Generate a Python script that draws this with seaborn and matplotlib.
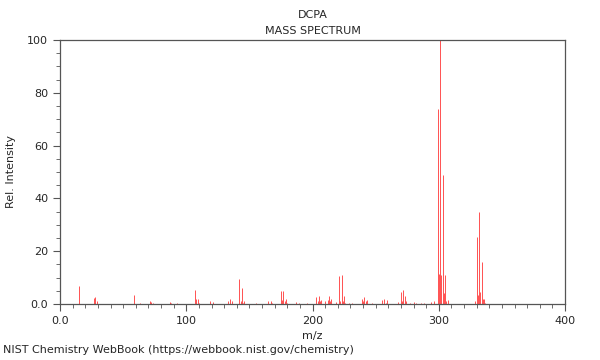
import matplotlib
matplotlib.use("Agg")
import matplotlib.pyplot as plt
import matplotlib.ticker as mtick
import pandas as pd
import seaborn as sns

# peak list (m/z, relative intensity)
mz = [15, 27, 28, 29, 59, 63, 71, 72, 74, 87, 88, 93,
      107, 108, 109, 110, 119, 121, 133, 135, 136,
      142, 143, 144, 145, 146, 155, 165, 167, 168,
      175, 176, 177, 178, 179, 180, 187, 189, 196,
      203, 204, 205, 206, 207, 210, 212, 213, 214, 215, 219,
      221, 222, 223, 224, 225, 226, 229, 231,
      239, 240, 241, 242, 243, 247, 255, 257, 258, 259,
      268, 270, 271, 272, 273, 274, 277, 280, 282, 286, 288,
      294, 296, 299, 300, 301, 302, 303, 304, 305, 306, 307,
      329, 330, 331, 332, 333, 334, 335, 336, 337]
intensity = [6.8, 2.2, 2.8, 1.2, 3.5, 0.4, 1.0, 0.7, 0.4, 0.8, 0.4, 0.5,
             5.3, 2.0, 1.8, 0.5, 1.0, 0.8, 1.2, 2.0, 1.0,
             9.5, 1.0, 6.0, 0.5, 1.0, 0.5, 1.0, 1.0, 0.5,
             4.9, 1.5, 4.9, 1.0, 2.0, 0.5, 0.8, 0.5, 0.5,
             2.5, 1.0, 3.0, 1.0, 1.5, 1.0, 1.5, 3.0, 1.0, 2.0, 0.8,
             10.5, 1.0, 11.0, 1.0, 3.0, 0.5, 0.5, 0.5,
             2.0, 1.0, 2.5, 1.0, 1.5, 0.5, 1.5, 2.0, 0.5, 1.5,
             0.8, 4.5, 1.0, 5.3, 3.0, 1.0, 0.5, 0.8, 0.5, 0.5, 0.5,
             0.8, 1.0, 74.0, 11.4, 100.0, 11.0, 49.0, 4.0, 11.0, 1.0, 1.5,
             1.0, 25.5, 3.5, 35.0, 4.5, 16.0, 2.0, 2.0, 0.5]

spec = pd.DataFrame({"mz": mz, "intensity": intensity})

sns.set_style("ticks")
plt.rcParams["font.family"] = ["DejaVu Sans"]

fig = plt.figure(figsize=(6, 3.6), dpi=100)
ax = fig.add_axes([0.1, 0.1556, 0.8417, 0.7333])

ax.vlines(spec["mz"], 0, spec["intensity"], color="#ff3333", linewidth=0.7, alpha=0.85)

ax.set_xlim(0, 400)
ax.set_ylim(0, 100)
ax.xaxis.set_major_locator(mtick.MultipleLocator(100))
ax.xaxis.set_minor_locator(mtick.MultipleLocator(10))
ax.yaxis.set_major_locator(mtick.MultipleLocator(20))
ax.yaxis.set_minor_locator(mtick.MultipleLocator(5))
fmt = lambda v, p: "0.0" if v == 0 else "%d" % v
ax.xaxis.set_major_formatter(mtick.FuncFormatter(fmt))
ax.yaxis.set_major_formatter(mtick.FuncFormatter(fmt))
ax.tick_params(which="major", length=5, width=0.8, color="#555555", labelsize=8)
ax.tick_params(which="minor", length=3, width=0.6, color="#555555")
for s in ax.spines.values():
    s.set_color("#555555")
    s.set_linewidth(0.9)

ax.set_xlabel("m/z", fontsize=8, labelpad=4)
ax.set_ylabel("Rel. Intensity", fontsize=8, labelpad=8)
ax.set_title("DCPA\nMASS SPECTRUM", fontsize=8, linespacing=1.75, pad=4)
fig.text(0.005, 0.02, "NIST Chemistry WebBook (https://webbook.nist.gov/chemistry)", fontsize=8)

plt.savefig("out.png", dpi=100)
